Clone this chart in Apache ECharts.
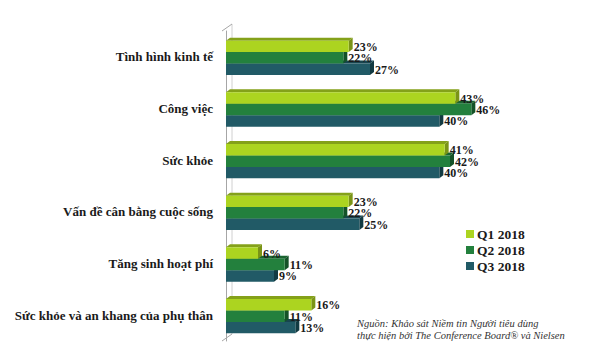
<!DOCTYPE html>
<html>
<head>
<meta charset="utf-8">
<script src="https://cdn.jsdelivr.net/npm/echarts@6/dist/echarts.min.js"></script>
<style>
html,body{margin:0;padding:0;background:#fff;}
#c{width:600px;height:359px;}
</style>
</head>
<body>
<div id="c"></div>
<script>
const categories = ["Tình hình kinh tế","Công việc","Sức khỏe","Vấn đề cân bằng cuộc sống","Tăng sinh hoạt phí","Sức khỏe và an khang của phụ thân"];
const seriesNames = ["Q1 2018","Q2 2018","Q3 2018"];
const q1 = [23,43,41,23,6,16];
const q2 = [22,46,42,22,11,11];
const q3 = [27,40,40,25,9,13];
const sourceLines = ["Nguồn: Khảo sát Niềm tin Người tiêu dùng","thực hiện bởi The Conference Board® và Nielsen"];

const palettes = [
  {front:'#acd420', top:'#84a119', side:'#7a9416'},
  {front:'#23803d', top:'#1a6430', side:'#145228'},
  {front:'#215a66', top:'#18454f', side:'#123a42'}
];
const GL = 226, GT = 31, GH = 310, GR = 54;
const serif = '"Liberation Serif", "DejaVu Serif", serif';

function makeRender(idx){
  const pal = palettes[idx];
  return function(params, api){
    const v = api.value(0), c = api.value(1);
    const p0 = api.coord([0, c]);
    const p1 = api.coord([v, c]);
    const band = api.size([0,1])[1];
    const h = band*0.222;
    const dx = 4, dy = 3;
    const y = p0[1] + 1 + (idx-1.5)*h;
    const x0 = p0[0], x1 = p1[0];
    return {
      type:'group',
      children:[
        {type:'polygon', shape:{points:[[x0,y],[x0+dx,y-dy],[x1+dx,y-dy],[x1,y]]}, style:{fill:pal.top}},
        {type:'polygon', shape:{points:[[x1,y],[x1+dx,y-dy],[x1+dx,y+h-dy],[x1,y+h]]}, style:{fill:pal.side}},
        {type:'rect', shape:{x:x0,y:y,width:x1-x0,height:h}, style:{fill:pal.front}},
        {type:'text', style:{text:v+'%', x:x1+dx+1, y:y+h/2+0.5, verticalAlign:'middle', align:'left',
          font:'bold 12px '+serif, fill:'#1a1a1a'}}
      ]
    };
  };
}
const dataArr = [q1,q2,q3];
const series = seriesNames.map((name,i)=>({
  type:'custom', name:name, z:10-i,
  renderItem: makeRender(i),
  itemStyle:{color:palettes[i].front},
  encode:{x:0,y:1},
  data: dataArr[i].map((v,j)=>[v,j])
}));

const chart = echarts.init(document.getElementById('c'), null, {renderer:'svg'});
const axisTop = GT, axisBot = GT+GH;
chart.setOption({
  animation:false,
  grid:{left:GL, top:GT, height:GH, right:GR},
  xAxis:{type:'value', min:0, max:60, show:false},
  yAxis:{type:'category', data:categories, inverse:true, offset:4,
    axisLine:{lineStyle:{color:'#a6a6a6'}},
    axisTick:{length:3, lineStyle:{color:'#a6a6a6'}},
    axisLabel:{margin:9, color:'#1a1a1a', fontFamily:serif, fontWeight:'bold', fontSize:13}
  },
  legend:{orient:'vertical', left:461, top:222, itemWidth:8, itemHeight:8, itemGap:2, icon:'rect',
    data:seriesNames,
    textStyle:{fontFamily:serif, fontWeight:'bold', fontSize:13.5, color:'#1a1a1a', padding:[0,0,0,-2]}},
  graphic:[
    {type:'line', shape:{x1:GL-4,y1:axisTop,x2:GL+6,y2:axisTop-7}, style:{stroke:'#a6a6a6',lineWidth:1}},
    {type:'line', shape:{x1:GL-4,y1:axisBot,x2:GL+6,y2:axisBot-7}, style:{stroke:'#a6a6a6',lineWidth:1}},
    {type:'line', shape:{x1:GL+6,y1:axisTop-7,x2:GL+6,y2:axisBot-7}, style:{stroke:'#d0d0d0',lineWidth:1}, z:-1},
    {type:'text', left:357, top:317, style:{text:sourceLines.join('\n'), font:'italic 10.5px '+serif, fill:'#333', lineHeight:12}}
  ],
  series: series
});
</script>
</body>
</html>
